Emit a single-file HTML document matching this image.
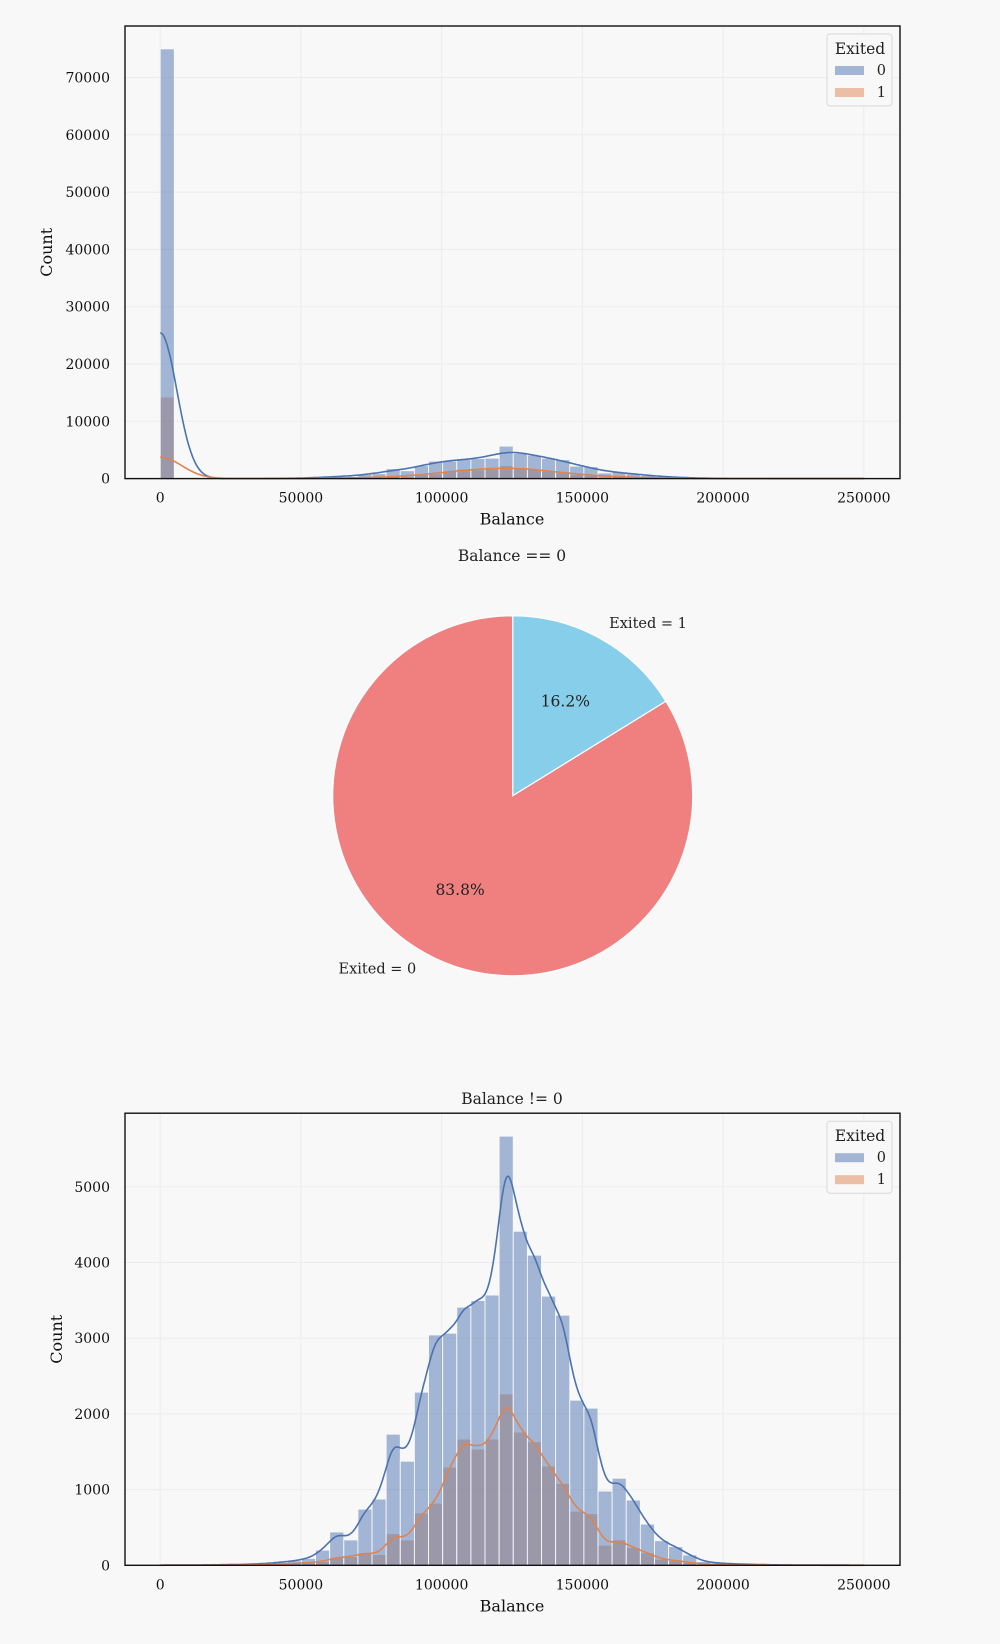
<!DOCTYPE html>
<html><head><meta charset="utf-8"><style>
html,body{margin:0;padding:0;background:#f8f8f8;}
svg{display:block;font-family:"DejaVu Serif","Liberation Serif",serif;}
</style></head><body>
<svg id="fig" width="1000" height="1644" viewBox="0 0 1000 1644">
<rect x="0" y="0" width="1000" height="1644" fill="#f8f8f8"/>
<g id="top"></g>
<g id="pie"></g>
<g id="bot"></g>
</svg>
<script>
const binWidth = 5018;
const xTicks = [0,50000,100000,150000,200000,250000];
const topYTicks = [0,10000,20000,30000,40000,50000,60000,70000];
const botYTicks = [0,1000,2000,3000,4000,5000];
// nonzero-balance counts per bin (bins 0..49), Exited=0
const nz0 = [3,3,4,5,8,10,15,25,40,60,90,200,440,335,742,875,1732,1375,2287,3043,3066,3410,3497,3570,5669,4413,4097,3556,3304,2181,2076,981,1150,862,545,325,247,137,50,30,20,14,10,6,5,3,3,2,2,2];
// Exited=1
const nz1 = [1,1,1,2,3,4,6,10,15,25,35,50,105,115,165,142,417,335,692,820,1297,1668,1535,1668,2264,1760,1632,1311,1082,715,683,266,335,234,165,82,64,37,15,8,5,3,2,2,1,1,1,0,0,0];
// zero-balance counts (bin 0 in the top chart)
const zero0 = 74997;
const zero1 = 14240;
const pieLabels = ["Exited = 1","Exited = 0"];
const pieValues = [16.2,83.8];
const pieColors = ["#87ceeb","#f08080"];

const NS="http://www.w3.org/2000/svg";
function mk(tag,attrs,parent){const e=document.createElementNS(NS,tag);for(const k in attrs)e.setAttribute(k,attrs[k]);parent.appendChild(e);return e;}
const BLUE="#4c72b0", ORANGE="#dd8452";

function kde(masses, sigma, xmin, xmax){
  const pts=[];
  for(let x=xmin;x<=xmax;x+=500){
    let s=0;
    for(const m of masses){const d=(x-m[0])/sigma;if(Math.abs(d)<6)s+=m[1]*Math.exp(-0.5*d*d);}
    pts.push([x,s*binWidth/(Math.sqrt(2*Math.PI)*sigma)]);
  }
  return pts;
}

function drawHist(g, cfg){
  const L=125,R=900,T=cfg.top,B=cfg.bottom;
  const xs=v=>160.2+v*(703.6/250000);
  const ys=v=>B-v*cfg.pxPer;
  for(const t of xTicks){const l=mk('line',{x1:xs(t),x2:xs(t),y1:T,y2:B,stroke:'#ececec','stroke-width':1},g);}
  for(const t of cfg.yTicks){const l=mk('line',{x1:L,x2:R,y1:ys(t),y2:ys(t),stroke:'#ececec','stroke-width':1},g);}
  [[cfg.c1,ORANGE,'bar-exited-1'],[cfg.c0,BLUE,'bar-exited-0']].forEach(([arr,col,nm])=>{
    arr.forEach((v,i)=>{ if(v<=0)return;
      const r=mk('rect',{x:xs(i*binWidth),y:ys(v),width:xs(binWidth)-xs(0),height:B-ys(v),fill:col,'fill-opacity':0.5,stroke:'#f8f8f8','stroke-width':0.9},g);
      
      
    });
  });
  [[cfg.k0,BLUE,'kde-exited-0'],[cfg.k1,ORANGE,'kde-exited-1']].forEach(([pts,col,nm])=>{
    const d=pts.map((p,i)=>(i?'L':'M')+xs(p[0]).toFixed(1)+' '+Math.min(B,ys(p[1])).toFixed(1)).join(' ');
    const p=mk('path',{d:d,fill:'none',stroke:col,'stroke-width':1.6},g);
    
    
  });
  const sp=mk('rect',{x:L,y:T,width:R-L,height:B-T,fill:'none',stroke:'#111','stroke-width':1.4},g);
  
  
  for(const t of xTicks){const tx=mk('text',{x:xs(t),y:B+24,'text-anchor':'middle','font-size':14,fill:'#111'},g);tx.textContent=t;}
  for(const t of cfg.yTicks){const tx=mk('text',{x:110,y:ys(t)+5,'text-anchor':'end','font-size':14,fill:'#111'},g);tx.textContent=t;}
  const xl=mk('text',{x:512,y:B+46,'text-anchor':'middle','font-size':16,fill:'#111'},g);xl.textContent='Balance';
  
  
  const yl=mk('text',{x:0,y:0,'text-anchor':'middle','font-size':16,fill:'#111',transform:`translate(${cfg.ylx},${(T+B)/2}) rotate(-90)`},g);yl.textContent='Count';
  
  
  if(cfg.title){const tt=mk('text',{x:512,y:T-9,'text-anchor':'middle','font-size':15.5,fill:'#222'},g);tt.textContent=cfg.title;}
  const lg=mk('g',{},g);
  
  
  mk('rect',{x:827,y:T+8,width:65,height:72,rx:3,fill:'#f8f8f8',stroke:'#d8d8d8'},lg);
  const lt=mk('text',{x:860,y:T+28,'text-anchor':'middle','font-size':15.5,fill:'#222'},lg);lt.textContent='Exited';
  
  
  [['0',BLUE],['1',ORANGE]].forEach(([lab,col],i)=>{
    const y=T+44+i*22;
    const sw=mk('rect',{x:835,y:y-4,width:29,height:9,fill:col,'fill-opacity':0.5},lg);
    
    
    const t=mk('text',{x:886,y:y+5,'text-anchor':'end','font-size':14.5,fill:'#222'},lg);t.textContent=lab;
    
    
  });
}

const top0=nz0.slice(); top0[0]+=zero0;
const top1=nz1.slice(); top1[0]+=zero1;
const centers=(arr)=>arr.map((v,i)=>[(i+0.5)*binWidth,v]);
const tm0=centers(nz0).concat([[0,zero0]]);
const tm1=centers(nz1).concat([[0,zero1]]);
drawHist(document.getElementById('top'),{top:26,bottom:478.6,pxPer:57.3/10000,yTicks:topYTicks,c0:top0,c1:top1,
  k0:kde(tm0,5900,0,250000), k1:kde(tm1,7650,0,250000), ylx:52});
drawHist(document.getElementById('bot'),{top:1113.2,bottom:1565.3,pxPer:75.7/1000,yTicks:botYTicks,c0:nz0,c1:nz1,
  k0:kde(centers(nz0),3000,0,250000), k1:kde(centers(nz1),3000,0,250000), ylx:62, title:'Balance != 0'});

(function(){
  const g=document.getElementById('pie');
  const cx=512.7,cy=795.8,r=180;
  const tt=mk('text',{x:512,y:561,'text-anchor':'middle','font-size':15.5,fill:'#222'},g);tt.textContent='Balance == 0';
  
  
  const total=pieValues.reduce((a,b)=>a+b,0);
  let a0=90;
  pieValues.forEach((v,i)=>{
    const sweep=v/total*360, a1=a0-sweep;
    const p=(a)=>[cx+r*Math.cos(a*Math.PI/180),cy-r*Math.sin(a*Math.PI/180)];
    const s=p(a0),e=p(a1);
    const d=`M${cx} ${cy} L${s[0]} ${s[1]} A${r} ${r} 0 ${sweep>180?1:0} 1 ${e[0]} ${e[1]} Z`;
    const sl=mk('path',{d:d,fill:pieColors[i],stroke:'#fff','stroke-width':1.2},g);
    
    
    const mid=(a0+a1)/2*Math.PI/180;
    const lx=cx+1.1*r*Math.cos(mid), ly=cy-1.1*r*Math.sin(mid);
    const lab=mk('text',{x:lx,y:ly+5,'text-anchor':Math.cos(mid)>0?'start':'end','font-size':14.5,fill:'#222'},g);lab.textContent=pieLabels[i];
    
    
    const px=cx+0.6*r*Math.cos(mid), py=cy-0.6*r*Math.sin(mid);
    const pt=mk('text',{x:px,y:py+5,'text-anchor':'middle','font-size':15.5,fill:'#222'},g);pt.textContent=v.toFixed(1)+'%';
    
    
    a0=a1;
  });
})();
</script>
</body></html>
